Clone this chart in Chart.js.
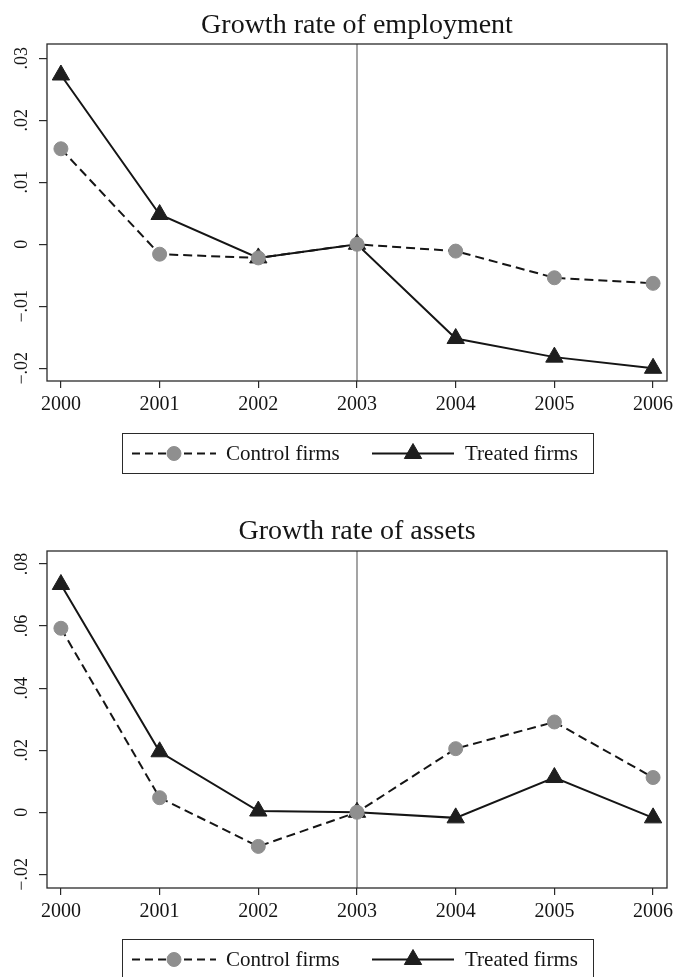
<!DOCTYPE html>
<html>
<head>
<meta charset="utf-8">
<script src="https://cdn.jsdelivr.net/npm/chart.js@4/dist/chart.umd.min.js"></script>
<style>
  html, body { margin: 0; padding: 0; background: #fff; }
  #wrap { position: relative; width: 678px; height: 977px; overflow: hidden; }
  canvas { position: absolute; left: 0; }
</style>
</head>
<body>
<div id="wrap">
  <canvas id="emp" width="678" height="490" style="top:0px"></canvas>
  <canvas id="ast" width="678" height="487" style="top:490px"></canvas>
</div>
<script>
// Years and the reform year marked by the vertical reference line
const years = [2000, 2001, 2002, 2003, 2004, 2005, 2006];
const treatmentYear = 2003;

// Growth rate of employment
const empControl = [0.0154, -0.0016, -0.0022, 0.0, -0.0011, -0.0054, -0.0063];
const empTreated = [0.0273, 0.0048, -0.0022, 0.0, -0.0152, -0.0182, -0.0200];

// Growth rate of assets
const assetControl = [0.0593, 0.0047, -0.0110, 0.0, 0.0205, 0.0291, 0.0112];
const assetTreated = [0.0734, 0.0195, 0.0004, 0.0, -0.0018, 0.0112, -0.0018];

// Vertical axis ticks and their printed labels
const empTicks = [-0.02, -0.01, 0, 0.01, 0.02, 0.03];
const empTickLabels = ['\u2212.02', '\u2212.01', '0', '.01', '.02', '.03'];
const assetTicks = [-0.02, 0, 0.02, 0.04, 0.06, 0.08];
const assetTickLabels = ['\u2212.02', '0', '.02', '.04', '.06', '.08'];

const seriesNames = ['Control firms', 'Treated firms'];

const SERIF = '"Liberation Serif", "Times New Roman", serif';
const INK = '#151515';
const FRAME = '#2a2a2a';

// Title, frame, reference line, rotated y labels and legend
const panelDeco = {
  id: 'panelDeco',
  beforeDatasetsDraw(chart, args, opts) {
    const { ctx, chartArea: a, scales } = chart;
    ctx.save();
    // reference line at the reform year
    const xr = scales.x.getPixelForValue(opts.refYear);
    ctx.strokeStyle = '#8e8e8e';
    ctx.lineWidth = 1.6;
    ctx.beginPath();
    ctx.moveTo(xr, a.top);
    ctx.lineTo(xr, a.bottom);
    ctx.stroke();
    // plot frame
    ctx.strokeStyle = FRAME;
    ctx.lineWidth = 1.3;
    ctx.strokeRect(a.left, a.top, a.right - a.left, a.bottom - a.top);
    ctx.restore();
  },
  afterDraw(chart, args, opts) {
    const { ctx, chartArea: a, scales } = chart;
    ctx.save();
    // title
    ctx.fillStyle = INK;
    ctx.font = '28px ' + SERIF;
    ctx.textAlign = 'center';
    ctx.textBaseline = 'alphabetic';
    ctx.fillText(opts.title, (a.left + a.right) / 2, opts.titleBaseline);
    // rotated y tick labels
    ctx.font = '18px ' + SERIF;
    scales.y.ticks.forEach((t) => {
      const i = opts.tickValues.indexOf(t.value);
      if (i < 0) return;
      const py = scales.y.getPixelForValue(t.value);
      ctx.save();
      ctx.translate(opts.yLabelX, py);
      ctx.rotate(-Math.PI / 2);
      ctx.textAlign = 'center';
      ctx.textBaseline = 'alphabetic';
      ctx.fillText(opts.tickLabels[i], 0, 0);
      ctx.restore();
    });
    // legend
    const top = opts.legendTop;
    ctx.strokeStyle = FRAME;
    ctx.lineWidth = 1;
    ctx.strokeRect(122.5, top + 0.5, 471, 40);
    const cy = top + 20.5;
    const slots = [{ x0: 132, x1: 216, tx: 226 }, { x0: 372, x1: 454, tx: 465 }];
    chart.data.datasets.forEach((ds, i) => {
      const s = slots[i];
      ctx.beginPath();
      ctx.setLineDash(ds.legendDash || []);
      ctx.strokeStyle = ds.borderColor;
      ctx.lineWidth = ds.borderWidth;
      ctx.moveTo(s.x0, cy);
      ctx.lineTo(s.x1, cy);
      ctx.stroke();
      ctx.setLineDash([]);
      ctx.fillStyle = ds.pointBackgroundColor;
      ctx.strokeStyle = ds.pointBorderColor;
      ctx.lineWidth = ds.pointBorderWidth;
      Chart.helpers.drawPoint(ctx, {
        pointStyle: ds.pointStyle, radius: ds.pointRadius,
        borderWidth: ds.pointBorderWidth, rotation: 0
      }, (s.x0 + s.x1) / 2, cy);
      ctx.fillStyle = INK;
      ctx.font = '21px ' + SERIF;
      ctx.textAlign = 'left';
      ctx.textBaseline = 'middle';
      ctx.fillText(ds.label, s.tx, cy + 1);
    });
    ctx.restore();
  }
};

function makePanel(canvasId, title, control, treated, ticks, tickLabels, yMin, yMax, layout) {
  const toPts = (vals) => years.map((y, i) => ({ x: y, y: vals[i] }));
  return new Chart(document.getElementById(canvasId), {
    type: 'line',
    data: {
      datasets: [
        {
          label: seriesNames[0],
          data: toPts(control),
          order: 0,
          borderColor: INK,
          borderWidth: 2,
          borderDash: [9, 5],
          legendDash: [8, 5],
          tension: 0,
          pointStyle: 'circle',
          pointRadius: 7,
          pointBorderWidth: 1,
          pointBackgroundColor: '#8f8f8f',
          pointBorderColor: '#8f8f8f'
        },
        {
          label: seriesNames[1],
          data: toPts(treated),
          order: 1,
          borderColor: INK,
          borderWidth: 2,
          tension: 0,
          pointStyle: 'triangle',
          pointRadius: 10,
          pointBorderWidth: 1,
          pointBackgroundColor: '#1e1e1e',
          pointBorderColor: '#1e1e1e'
        }
      ]
    },
    plugins: [panelDeco],
    options: {
      responsive: false,
      animation: false,
      events: [],
      layout: { padding: { left: 0, right: 9, top: layout.top, bottom: layout.bottom } },
      plugins: {
        legend: { display: false },
        tooltip: { enabled: false },
        title: { display: false },
        panelDeco: {
          title: title,
          titleBaseline: layout.titleBaseline,
          legendTop: layout.legendTop,
          refYear: treatmentYear,
          tickValues: ticks,
          tickLabels: tickLabels,
          yLabelX: 27
        }
      },
      scales: {
        x: {
          type: 'linear',
          min: 1999.859,
          max: 2006.141,
          afterBuildTicks: (axis) => { axis.ticks = years.map((v) => ({ value: v })); },
          afterFit: (axis) => {
            axis.height = 30;
            // end labels may overhang the plot frame
            axis.paddingLeft = 0;
            axis.paddingRight = 0;
          },
          border: { display: false },
          grid: { drawOnChartArea: false, drawTicks: true, tickLength: 7, color: FRAME, lineWidth: 1.2 },
          ticks: {
            color: INK,
            font: { family: SERIF, size: 20 },
            padding: 5,
            maxRotation: 0,
            autoSkip: false,
            callback: (v) => String(v)
          }
        },
        y: {
          type: 'linear',
          min: yMin,
          max: yMax,
          afterBuildTicks: (axis) => { axis.ticks = ticks.map((v) => ({ value: v })); },
          afterFit: (axis) => { axis.width = 47; },
          border: { display: false },
          grid: { drawOnChartArea: false, drawTicks: true, tickLength: 8, color: FRAME, lineWidth: 1.2 },
          ticks: { display: false }
        }
      }
    }
  });
}

makePanel('emp', 'Growth rate of employment', empControl, empTreated,
  empTicks, empTickLabels, -0.02205, 0.0323,
  { top: 44, bottom: 79, titleBaseline: 33, legendTop: 433 });

makePanel('ast', 'Growth rate of assets', assetControl, assetTreated,
  assetTicks, assetTickLabels, -0.0244, 0.0842,
  { top: 61, bottom: 59, titleBaseline: 49, legendTop: 449 });
</script>
</body>
</html>
